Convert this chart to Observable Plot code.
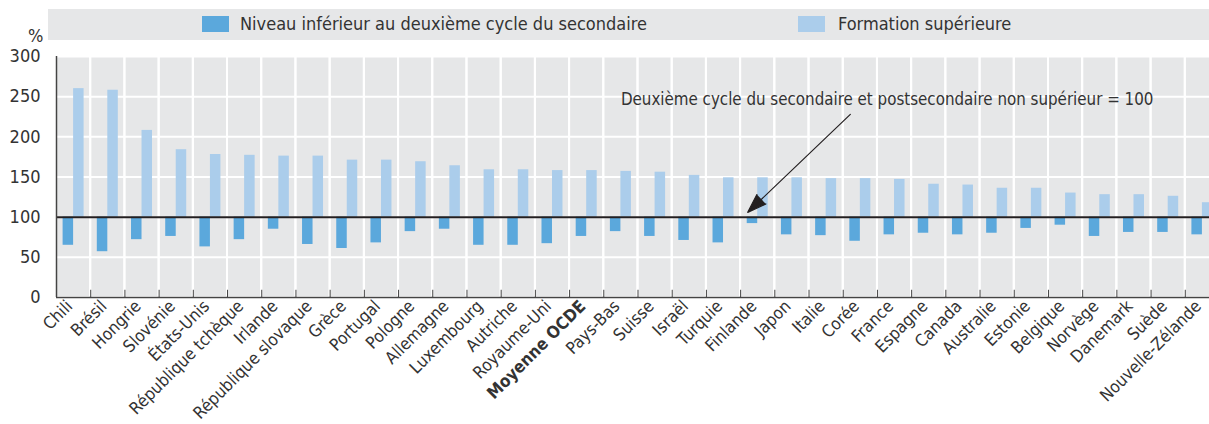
<!DOCTYPE html>
<html><head><meta charset="utf-8">
<script src="https://cdn.jsdelivr.net/npm/d3@7"></script>
<script src="https://cdn.jsdelivr.net/npm/@observablehq/plot@0.6"></script>
<style>
body{margin:0;background:#fff;overflow:hidden;font-family:"DejaVu Sans Condensed","Liberation Sans Narrow",sans-serif;color:#333;}
#wrap{position:relative;width:1209px;height:424px;overflow:hidden;}
#legend{position:absolute;left:48px;top:9px;width:1161px;height:31px;background:#e6e7e8;}
.sw{position:absolute;top:7px;width:27px;height:16px;}
.lt{position:absolute;top:4px;font-size:18px;line-height:22px;color:#333;white-space:nowrap;}
#pct{position:absolute;left:28px;top:26px;font-size:18px;line-height:20px;color:#333}
#chart{position:absolute;left:0;top:0;}
</style></head><body>
<div id="wrap"><div id="chart"></div><div id="legend"></div><div id="pct">%</div></div>
<script>
const countries = ["Chili","Brésil","Hongrie","Slovénie","États-Unis","République tchèque","Irlande","République slovaque","Grèce","Portugal","Pologne","Allemagne","Luxembourg","Autriche","Royaume-Uni","Moyenne OCDE","Pays-Bas","Suisse","Israël","Turquie","Finlande","Japon","Italie","Corée","France","Espagne","Canada","Australie","Estonie","Belgique","Norvège","Danemark","Suède","Nouvelle-Zélande"];
const lowerSecondary = [65,57,72,76,63,72,85,66,61,68,82,85,65,65,67,76,82,76,71,68,92,78,77,70,78,80,78,80,86,90,76,81,81,78];
const tertiary = [260,258,208,184,178,177,176,176,171,171,169,164,159,159,158,158,157,156,152,149,149,149,148,148,147,141,140,136,136,130,128,128,126,118];
const seriesNames = ["Niveau inférieur au deuxième cycle du secondaire","Formation supérieure"];
const seriesColors = ["#5ba8dc","#abcdeb"];
const yTicks = [0,50,100,150,200,250,300];
const baseline = 100;
const highlight = "Moyenne OCDE";
const annotation = [{label:"Deuxième cycle du secondaire et postsecondaire non supérieur = 100", x:"Pays-Bas", y:246}];
const arrowData = [{x1:"Corée", y1:228, x2:"Finlande", y2:106}];

const rows = countries.map((c,i)=>({country:c, lower:lowerSecondary[i], tertiary:tertiary[i]}));

const left = 56, right = 1219;
const bw = (right-left)/countries.length;
const barW = 10.5;
const outer = (bw - 2*barW)/2;
const font = '"DejaVu Sans Condensed","Liberation Sans Narrow",sans-serif';

const chart = Plot.plot({
  width:1209, height:424, marginTop:56, marginBottom:127, marginLeft:left, marginRight:0,
  style:{fontFamily:font, fontSize:"17px", color:"#333", background:"transparent"},
  x:{domain:countries, range:[left,right], padding:0, round:false},
  y:{domain:[0,300]},
  marks:[
    Plot.frame({fill:"#e6e7e8", stroke:null}),
    Plot.gridY(yTicks, {stroke:"white", strokeOpacity:1, strokeWidth:2}),
    Plot.barY(countries, {x:d=>d, y1:0, y2:300, fill:"none", stroke:"white", strokeWidth:2}),
    Plot.barY(rows, {x:"country", y1:baseline, y2:"lower", fill:seriesColors[0], insetLeft:outer, insetRight:outer+barW}),
    Plot.barY(rows, {x:"country", y1:baseline, y2:"tertiary", fill:seriesColors[1], insetLeft:outer+barW, insetRight:outer}),
    Plot.ruleY([baseline], {stroke:"#231f20", strokeWidth:2}),
    Plot.ruleY([0], {stroke:"#444", strokeWidth:1.5}),
    Plot.ruleX([countries[0]], {dx:-bw/2, y1:0, y2:300, stroke:"#444", strokeWidth:1.5}),
    Plot.ruleX(countries, {x:d=>d, dx:bw/2, y1:0, y2:9, stroke:"#444"}),
    Plot.axisY(yTicks, {tickSize:0, tickPadding:16, fontSize:18, label:null}),
    Plot.axisX({tickSize:0, tickRotate:-45, tickPadding:6, dx:-4, fontSize:17, label:null}),
    Plot.text(annotation, {x:"x", y:"y", text:"label", textAnchor:"start", fontSize:16.8, fill:"#333"}),
    Plot.arrow(arrowData, {x1:"x1", y1:"y1", x2:"x2", y2:"y2", dx:-10, stroke:"#231f20", fill:"#231f20", strokeWidth:1.2, headLength:25, headAngle:38})
  ]
});
document.getElementById("chart").appendChild(chart);
d3.select(chart).selectAll("text").filter(function(){return this.textContent===highlight;}).attr("font-weight","bold");

const leg = document.getElementById("legend");
const swX = [154, 750], txX = [192, 790];
seriesNames.forEach((n,i)=>{
  const s=document.createElement("div"); s.className="sw"; s.style.left=swX[i]+"px"; s.style.background=seriesColors[i]; leg.appendChild(s);
  const t=document.createElement("div"); t.className="lt"; t.style.left=txX[i]+"px"; t.textContent=n; leg.appendChild(t);
});
</script>
</body></html>
